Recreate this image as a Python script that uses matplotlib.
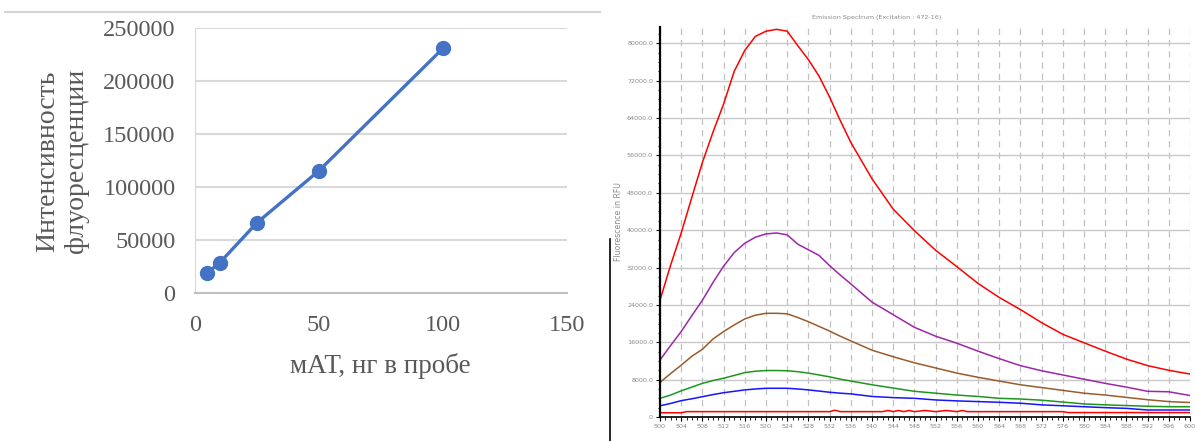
import matplotlib
matplotlib.use("Agg")
import matplotlib.pyplot as plt
from matplotlib.lines import Line2D
from matplotlib.ticker import MultipleLocator, FuncFormatter

# --- left panel: calibration line ---
mab_ng = [5, 10, 25, 50, 100]
intensity = [19200, 28600, 66300, 115400, 230800]

# --- right panel: emission spectra ---
wl = [500, 502, 504, 506, 508, 510, 512, 514, 516, 518, 520, 522, 524, 526,
      528, 530, 532, 534, 536, 540, 544, 548, 552, 556, 560, 564, 568, 572,
      576, 580, 584, 588, 592, 596, 600]
red_top = [25000, 32500, 39400, 47000, 54500, 61000, 67000, 74000, 78500,
           81500, 82600, 83000, 82600, 79500, 76500, 73000, 68500, 63500,
           58800, 51000, 44500, 39900, 35700, 32200, 28600, 25600, 23000,
           20200, 17700, 15900, 14100, 12400, 11000, 10000, 9200]
purple = [12200, 15300, 18300, 21700, 25000, 28800, 32300, 35200, 37200,
          38500, 39200, 39400, 39000, 37000, 35800, 34600, 32400, 30400,
          28500, 24600, 21900, 19200, 17300, 15800, 14100, 12500, 11000,
          9900, 9000, 8100, 7200, 6400, 5500, 5400, 4600]
brown = [7400, 9300, 11100, 13000, 14500, 16700, 18300, 19700, 21000, 21800,
         22200, 22200, 22100, 21300, 20400, 19400, 18400, 17300, 16300, 14300,
         12900, 11600, 10500, 9400, 8500, 7700, 6900, 6300, 5700, 5100, 4700,
         4200, 3700, 3300, 3100]
green = [4000, 4700, 5600, 6400, 7200, 7800, 8300, 8900, 9500, 9800, 9950,
         9950, 9900, 9700, 9400, 9000, 8600, 8100, 7700, 6900, 6200, 5500,
         5100, 4700, 4400, 4000, 3850, 3600, 3200, 2800, 2600, 2450, 2300,
         2200, 2200]
blue = [2400, 2900, 3500, 3900, 4350, 4800, 5200, 5500, 5800, 6000, 6150,
        6150, 6150, 6000, 5800, 5550, 5300, 5100, 4950, 4400, 4150, 4000,
        3650, 3450, 3300, 3150, 2950, 2600, 2400, 2200, 2000, 1850, 1500,
        1500, 1500]
base_wl = [500, 504, 505, 532, 533, 534, 542, 543, 544, 545, 546, 547, 548,
           550, 552, 554, 556, 557, 558, 576, 577, 600]
base_red = [900, 900, 1150, 1150, 1450, 1150, 1150, 1400, 1150, 1400, 1150,
            1400, 1150, 1400, 1150, 1400, 1150, 1400, 1150, 1150, 950, 950]

W, H = 1196, 441
fig = plt.figure(figsize=(W / 100, H / 100), dpi=100)

# ---------- left chart ----------
serif = "Liberation Serif"
ax1 = fig.add_axes([195 / W, 1 - 293 / H, (567 - 195) / W, (293 - 28) / H])
ax1.plot(mab_ng, intensity, color="#4472C4", lw=2.4, marker="o", ms=10,
         zorder=3)
ax1.set_xlim(0, 150)
ax1.set_ylim(0, 250000)
ax1.set_xticks([0, 50, 100, 150])
ax1.set_yticks(range(0, 250001, 50000))
ax1.grid(axis="y", color="#d9d9d9", lw=1.5)
ax1.set_axisbelow(True)
for s in ["top", "right"]:
    ax1.spines[s].set_visible(False)
ax1.spines["left"].set_color("#d9d9d9")
ax1.spines["bottom"].set_color("#bfbfbf")
ax1.spines["bottom"].set_linewidth(1.5)
ax1.tick_params(length=0, labelsize=17.5, labelcolor="#595959", pad=14)
ax1.tick_params(axis="x", pad=16)
for lab in ax1.get_xticklabels() + ax1.get_yticklabels():
    lab.set_fontfamily(serif)
fig.text(62 / W, 1 - 161 / H, "Интенсивность\nфлуоресценции", rotation=90,
         ha="center", va="center", fontsize=20, family=serif, color="#595959",
         linespacing=1.2)
fig.text(380 / W, 1 - 366 / H, "мАТ, нг в пробе", ha="center", va="center",
         fontsize=19.5, family=serif, color="#595959")
fig.add_artist(Line2D([5 / W, 600 / W], [1 - 12 / H, 1 - 12 / H],
                      color="#d4d4d4", lw=1.5))

# ---------- right chart ----------
ax2 = fig.add_axes([660 / W, 1 - 417 / H, (1190 - 660) / W, (417 - 27) / H])
for y, c in [(red_top, "#ff0000"), (purple, "#9c27a8"), (brown, "#9a5b2a"),
             (green, "#1e961e"), (blue, "#1515ff")]:
    ax2.plot(wl, y, color=c, lw=1.1)
ax2.plot(base_wl, base_red, color="#ff0000", lw=1.1)
ax2.set_xlim(500, 600)
ax2.set_ylim(0, 83500)
ax2.xaxis.set_major_locator(MultipleLocator(4))
ax2.xaxis.set_minor_locator(MultipleLocator(1))
ax2.yaxis.set_major_locator(MultipleLocator(8000))
ax2.yaxis.set_minor_locator(MultipleLocator(2000))
ax2.yaxis.set_major_formatter(
    FuncFormatter(lambda v, p: "0" if v == 0 else f"{v:.1f}"))
ax2.grid(axis="y", which="major", color="#c8c8c8", lw=1)
ax2.grid(axis="x", which="major", color="#c0c0c0", lw=0.9, ls=(0, (5, 4)))
ax2.set_axisbelow(True)
for s in ["top", "right"]:
    ax2.spines[s].set_visible(False)
ax2.spines["left"].set_linewidth(1.6)
ax2.spines["bottom"].set_linewidth(1.2)
ax2.tick_params(which="major", length=3, width=0.8, labelsize=4.6,
                labelcolor="#8a8a8a", pad=2)
ax2.tick_params(which="minor", length=1.8, width=0.6)
ax2.set_ylabel("Fluorescence in RFU", fontsize=5.6, color="#8a8a8a",
               labelpad=3)
fig.text(877 / W, 1 - 17 / H, "Emission Spectrum (Excitation : 472-16)",
         ha="center", va="center", fontsize=4.6, color="#8a8a8a")
fig.add_artist(Line2D([610 / W, 610 / W], [0, 1 - 239 / H], color="black",
                      lw=1.2))

fig.savefig("out.png", dpi=100)
